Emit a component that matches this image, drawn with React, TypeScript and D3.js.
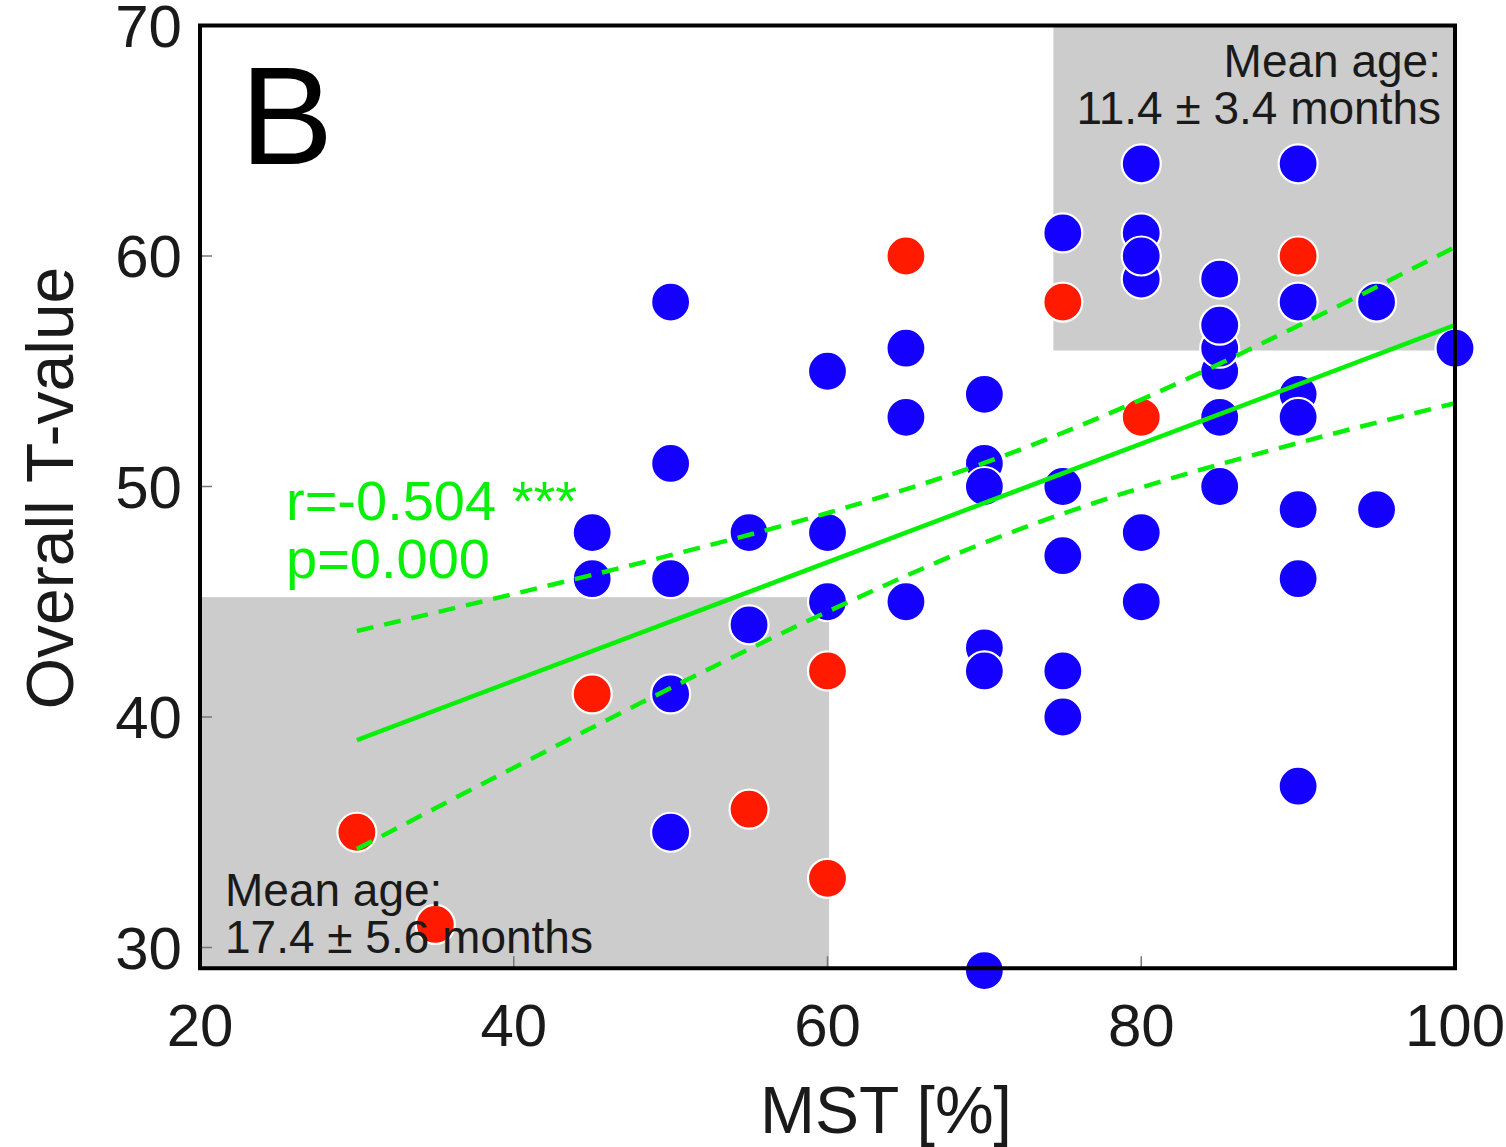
import React from 'react';
import * as d3 from 'd3';

// ---- data ----
const blueMST = [45, 45, 50, 50, 50, 50, 50, 55, 55, 60, 60, 60, 65, 65, 65, 70, 70, 70, 70, 70, 70, 75, 75, 75, 75, 75, 80, 80, 80, 80, 80, 80, 85, 85, 85, 85, 85, 85, 90, 90, 90, 90, 90, 90, 90, 95, 95, 100];
const blueT = [48, 46, 58, 51, 46, 41, 35, 48, 44, 55, 48, 45, 56, 53, 45, 54, 51, 50, 43, 42, 29, 61, 50, 47, 42, 40, 64, 61, 59, 60, 48, 45, 59, 55, 56, 57, 53, 50, 64, 58, 54, 53, 49, 46, 37, 58, 49, 56];
const redMST = [30, 35, 45, 55, 60, 60, 65, 75, 80, 90];
const redT = [35, 31, 41, 36, 42, 33, 60, 58, 53, 60];

const fitMST = [30, 100];
const fitT = [39.0, 57.0];
const bandMST = [30, 40, 50, 60, 70, 80, 90, 100];
const bandUpper = [43.73, 45.34, 47.02, 48.85, 51.02, 53.77, 56.97, 60.39];
const bandLower = [34.27, 37.8, 41.26, 44.57, 47.56, 49.95, 51.89, 53.61];

const boxX0 = [20, 74.4];
const boxX1 = [60.1, 100];
const boxY0 = [29.1, 55.9];
const boxY1 = [45.2, 70];

const xTicks = [20, 40, 60, 80, 100];
const yTicks = [30, 40, 50, 60, 70];

const W = 1506;
const H = 1147;
const FONT = '"Liberation Sans", Arial, Helvetica, sans-serif';
const BLUE = '#1400ff';
const RED = '#ff1a00';
const GREEN = '#08f008';
const GREY = '#cccccc';
const TEXT = '#1a1a1a';

export default function App() {
  const x = d3.scaleLinear().domain([20, 100]).range([200, 1455]);
  const y = d3.scaleLinear().domain([30, 70]).range([947.5, 25.5]);
  const yBottom = 29.1;

  const line = d3
    .line<[number, number]>()
    .x((d) => x(d[0]))
    .y((d) => y(d[1]));
  const curve = d3
    .line<[number, number]>()
    .x((d) => x(d[0]))
    .y((d) => y(d[1]))
    .curve(d3.curveMonotoneX);

  const fitPts = fitMST.map((v, i) => [v, fitT[i]] as [number, number]);
  const upPts = bandMST.map((v, i) => [v, bandUpper[i]] as [number, number]);
  const loPts = bandMST.map((v, i) => [v, bandLower[i]] as [number, number]);

  const r = 19.5;

  return (
    <svg
      width={W}
      height={H}
      style={{ position: 'absolute', left: 0, top: 0, background: '#fff' }}
      fontFamily={FONT}
    >
      <rect x={0} y={0} width={W} height={H} fill="#fff" />
      {/* shaded regions */}
      {boxX0.map((bx, i) => (
        <rect
          key={'box' + i}
          x={x(bx)}
          y={y(boxY1[i])}
          width={x(boxX1[i]) - x(bx)}
          height={y(boxY0[i]) - y(boxY1[i])}
          fill={GREY}
        />
      ))}
      {/* ticks */}
      {xTicks.map((t) => (
        <line key={'xt' + t} x1={x(t)} x2={x(t)} y1={y(yBottom)} y2={y(yBottom) - 12} stroke="#777" strokeWidth={1.5} />
      ))}
      {yTicks.map((t) => (
        <line key={'yt' + t} x1={x(20)} x2={x(20) + 12} y1={y(t)} y2={y(t)} stroke="#777" strokeWidth={1.5} />
      ))}
      {/* points */}
      {blueMST.map((v, i) => (
        <circle key={'b' + i} cx={x(v)} cy={y(blueT[i])} r={r} fill={BLUE} stroke="#fff" strokeWidth={2.2} />
      ))}
      {redMST.map((v, i) => (
        <circle key={'r' + i} cx={x(v)} cy={y(redT[i])} r={r} fill={RED} stroke="#fff" strokeWidth={2.2} />
      ))}
      {/* regression line and confidence band */}
      <path d={line(fitPts) || ''} fill="none" stroke={GREEN} strokeWidth={4.5} />
      <path d={curve(upPts) || ''} fill="none" stroke={GREEN} strokeWidth={4.5} strokeDasharray="17 11" />
      <path d={curve(loPts) || ''} fill="none" stroke={GREEN} strokeWidth={4.5} strokeDasharray="17 11" />
      {/* annotations */}
      <text x={286} y={520} fontSize={56} fill={GREEN}>
        r=-0.504 ***
      </text>
      <text x={286} y={578} fontSize={56} fill={GREEN}>
        p=0.000
      </text>
      <text x={1441} y={77} fontSize={46} fill={TEXT} textAnchor="end">
        Mean age:
      </text>
      <text x={1441} y={124} fontSize={46} fill={TEXT} textAnchor="end">
        11.4 ± 3.4 months
      </text>
      <text x={225} y={906} fontSize={46} fill={TEXT}>
        Mean age:
      </text>
      <text x={225} y={953} fontSize={46} fill={TEXT}>
        17.4 ± 5.6 months
      </text>
      <text x={240} y={164} fontSize={140} fill="#000">
        B
      </text>
      {/* frame */}
      <rect
        x={x(20)}
        y={y(70)}
        width={x(100) - x(20)}
        height={y(yBottom) - y(70)}
        fill="none"
        stroke="#000"
        strokeWidth={4}
      />
      {/* tick labels */}
      {xTicks.map((t) => (
        <text key={'xl' + t} x={x(t)} y={1046} fontSize={60} fill={TEXT} textAnchor="middle">
          {t}
        </text>
      ))}
      {yTicks.map((t) => (
        <text key={'yl' + t} x={182} y={y(t) + 21} fontSize={60} fill={TEXT} textAnchor="end">
          {t}
        </text>
      ))}
      {/* axis titles */}
      <text x={886} y={1133} fontSize={66} fill={TEXT} textAnchor="middle">
        MST [%]
      </text>
      <text
        transform={`translate(73, 488) rotate(-90)`}
        fontSize={66}
        fill={TEXT}
        textAnchor="middle"
      >
        Overall T-value
      </text>
    </svg>
  );
}
